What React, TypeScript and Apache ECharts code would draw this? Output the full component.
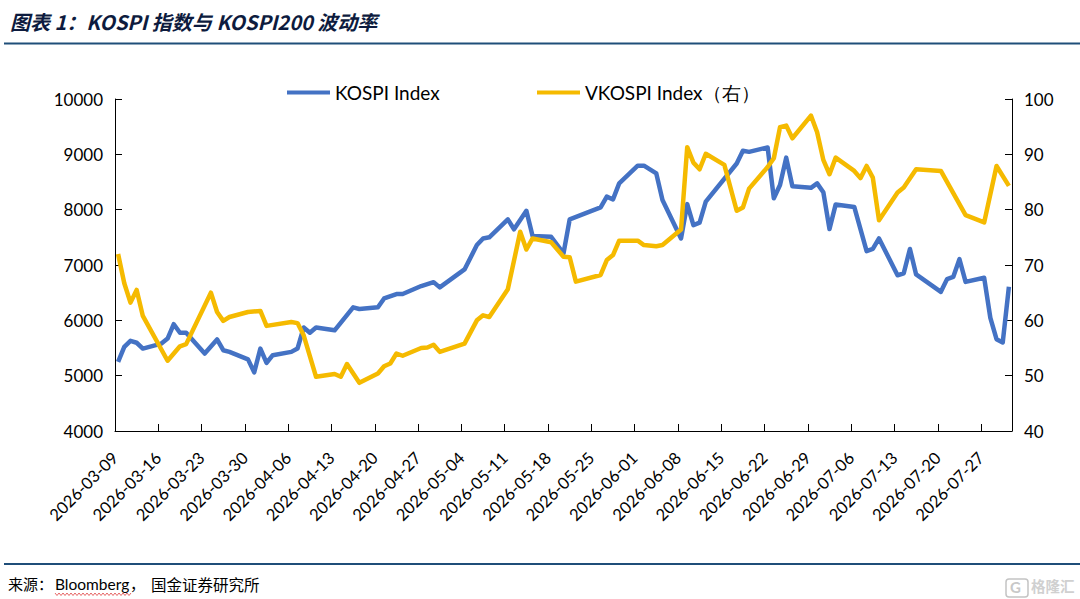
import React, { useEffect, useRef } from "react";
import * as echarts from "echarts";

const START_DATE = "2026-03-09";
const X_MAX_DAYS = 145;
const X_TICK_DAYS = 7;

const kospiDates = [
  "2026-03-09","2026-03-10","2026-03-11","2026-03-12","2026-03-13",
  "2026-03-16","2026-03-17","2026-03-18","2026-03-19","2026-03-20",
  "2026-03-23","2026-03-25","2026-03-26","2026-03-27",
  "2026-03-30","2026-03-31","2026-04-01","2026-04-02","2026-04-03",
  "2026-04-06","2026-04-07","2026-04-08","2026-04-09","2026-04-10",
  "2026-04-13","2026-04-16","2026-04-17",
  "2026-04-20","2026-04-21","2026-04-23","2026-04-24",
  "2026-04-27","2026-04-29","2026-04-30",
  "2026-05-04","2026-05-06","2026-05-07","2026-05-08",
  "2026-05-11","2026-05-12","2026-05-14","2026-05-15",
  "2026-05-18","2026-05-20","2026-05-21",
  "2026-05-26","2026-05-27","2026-05-28","2026-05-29",
  "2026-06-01","2026-06-02","2026-06-04","2026-06-05",
  "2026-06-08","2026-06-09","2026-06-10","2026-06-11","2026-06-12",
  "2026-06-17","2026-06-18","2026-06-19",
  "2026-06-22","2026-06-23","2026-06-24","2026-06-25","2026-06-26",
  "2026-06-29","2026-06-30","2026-07-01","2026-07-02","2026-07-03",
  "2026-07-06","2026-07-08","2026-07-09","2026-07-10",
  "2026-07-13","2026-07-14","2026-07-15","2026-07-16",
  "2026-07-20","2026-07-21","2026-07-22","2026-07-23","2026-07-24",
  "2026-07-27","2026-07-28","2026-07-29","2026-07-30","2026-07-31",
];
const kospiValues = [
  5250, 5520, 5630, 5595, 5490,
  5580, 5670, 5930, 5775, 5775,
  5400, 5655, 5460, 5430,
  5295, 5060, 5490, 5230, 5370,
  5430, 5490, 5870, 5775, 5870,
  5820, 6235, 6205,
  6235, 6395, 6475, 6475,
  6620, 6690, 6595,
  6920, 7360, 7480, 7500,
  7825, 7645, 7980, 7525,
  7510, 7210, 7825,
  8040, 8235, 8185, 8475,
  8795, 8795, 8655, 8175,
  7480, 8100, 7720, 7765, 8145,
  8835, 9065, 9045,
  9125, 8205, 8445, 8940, 8425,
  8395, 8475, 8315, 7650, 8095,
  8050, 7250, 7290, 7480,
  6815, 6850, 7290, 6830,
  6515, 6745, 6785, 7105, 6695,
  6770, 6045, 5660, 5600, 6605,
];

const vkospiDates = [
  "2026-03-09","2026-03-10","2026-03-11","2026-03-12","2026-03-13",
  "2026-03-17","2026-03-19","2026-03-20",
  "2026-03-24","2026-03-25","2026-03-26","2026-03-27",
  "2026-03-30","2026-04-01","2026-04-02",
  "2026-04-06","2026-04-07","2026-04-08","2026-04-10",
  "2026-04-13","2026-04-14","2026-04-15","2026-04-17",
  "2026-04-20","2026-04-21","2026-04-22","2026-04-23","2026-04-24",
  "2026-04-27","2026-04-28","2026-04-29","2026-04-30",
  "2026-05-04","2026-05-06","2026-05-07","2026-05-08",
  "2026-05-11","2026-05-13","2026-05-14","2026-05-15",
  "2026-05-18","2026-05-20","2026-05-21","2026-05-22",
  "2026-05-26","2026-05-27","2026-05-28","2026-05-29",
  "2026-06-01","2026-06-02","2026-06-04","2026-06-05",
  "2026-06-08","2026-06-09","2026-06-10","2026-06-11","2026-06-12",
  "2026-06-15","2026-06-17","2026-06-18","2026-06-19",
  "2026-06-22","2026-06-23","2026-06-24","2026-06-25","2026-06-26",
  "2026-06-29","2026-06-30","2026-07-01","2026-07-02","2026-07-03",
  "2026-07-06","2026-07-07","2026-07-08","2026-07-09","2026-07-10",
  "2026-07-13","2026-07-14","2026-07-16",
  "2026-07-20","2026-07-24",
  "2026-07-27","2026-07-28","2026-07-29","2026-07-31",
];
const vkospiValues = [
  72.0, 66.7, 63.2, 65.5, 60.8,
  52.7, 55.3, 55.7,
  65.0, 61.5, 59.9, 60.6,
  61.5, 61.7, 59.0,
  59.7, 59.5, 57.3, 49.8,
  50.3, 49.8, 52.1, 48.7,
  50.4, 51.7, 52.2, 54.0, 53.6,
  55.0, 55.1, 55.6, 54.3,
  55.8, 60.0, 60.9, 60.6,
  65.6, 76.0, 72.8, 74.8,
  74.1, 71.5, 71.4, 67.0,
  68.2, 70.9, 71.8, 74.4,
  74.4, 73.6, 73.4, 73.6,
  76.4, 91.3, 88.5, 87.3, 90.1,
  88.1, 79.8, 80.4, 83.8,
  87.7, 89.3, 94.9, 95.2, 92.9,
  97.0, 94.0, 89.0, 86.4, 89.4,
  87.0, 85.7, 87.9, 85.8, 78.1,
  83.1, 84.0, 87.3,
  87.0, 79.0,
  77.7, 82.8, 87.9, 84.3,
];

const leftAxis = { min: 4000, max: 10000, interval: 1000 };
const rightAxis = { min: 40, max: 100, interval: 10 };

const seriesNames = ["KOSPI Index", "VKOSPI Index（右）"];

const DAY_MS = 86400000;
const startMs = Date.parse(START_DATE + "T00:00:00Z");
const dayOffset = (d: string) => (Date.parse(d + "T00:00:00Z") - startMs) / DAY_MS;
const dayLabel = (v: number) => new Date(startMs + v * DAY_MS).toISOString().slice(0, 10);

const FONT = "Lato";
const CJK = "Noto Sans CJK SC";

export default function App() {
  const ref = useRef<HTMLDivElement>(null);

  useEffect(() => {
    if (!ref.current) return;
    const chart = echarts.init(ref.current, undefined, { renderer: "svg" });

    const toPoints = (dates: string[], vals: number[]) =>
      dates.map((d, i) => [dayOffset(d) + 0.5, vals[i]]);

    const wave: number[][] = [];
    for (let x = 55, k = 0; x <= 131; x += 2, k++) wave.push([x, k % 2 === 0 ? 593 : 595.5]);

    const axisLineStyle = { show: true, lineStyle: { color: "#000", width: 1 } };
    const axisTick = { show: true, inside: true, length: 7, lineStyle: { color: "#000", width: 1 } };
    const labelStyle = { color: "#000", fontSize: 17, fontFamily: FONT };

    chart.setOption({
      animation: false,
      backgroundColor: "#fff",
      grid: { left: 115, right: 68, top: 99, bottom: 168, containLabel: false },
      legend: [
        {
          data: [seriesNames[0]],
          left: 282,
          top: 78,
          icon: "rect",
          itemWidth: 43,
          itemHeight: 4,
          textStyle: { color: "#000", fontSize: 19, fontFamily: FONT },
          selectedMode: false,
        },
        {
          data: [seriesNames[1]],
          left: 532,
          top: 78,
          icon: "rect",
          itemWidth: 43,
          itemHeight: 4,
          textStyle: { color: "#000", fontSize: 19, fontFamily: FONT },
          selectedMode: false,
        },
      ],
      xAxis: {
        type: "value",
        min: 0,
        max: X_MAX_DAYS,
        interval: X_TICK_DAYS,
        axisLine: axisLineStyle,
        axisTick,
        splitLine: { show: false },
        axisLabel: {
          ...labelStyle,
          fontSize: 16.5,
          rotate: 45,
          margin: 24,
          showMaxLabel: false,
          formatter: (v: number) => (v % X_TICK_DAYS === 0 ? dayLabel(v) : ""),
        },
      },
      yAxis: [
        {
          type: "value",
          position: "left",
          ...leftAxis,
          axisLine: axisLineStyle,
          axisTick,
          splitLine: { show: false },
          axisLabel: { ...labelStyle, margin: 12, formatter: (v: number) => String(v) },
        },
        {
          type: "value",
          position: "right",
          ...rightAxis,
          axisLine: axisLineStyle,
          axisTick,
          splitLine: { show: false },
          axisLabel: { ...labelStyle, margin: 12, formatter: (v: number) => String(v) },
        },
      ],
      series: [
        {
          name: seriesNames[0],
          type: "line",
          yAxisIndex: 0,
          showSymbol: false,
          symbol: "none",
          color: "#4472C4",
          lineStyle: { width: 4.5, color: "#4472C4", join: "round" },
          data: toPoints(kospiDates, kospiValues),
        },
        {
          name: seriesNames[1],
          type: "line",
          yAxisIndex: 1,
          showSymbol: false,
          symbol: "none",
          color: "#F5BA00",
          lineStyle: { width: 4.5, color: "#F5BA00", join: "round" },
          data: toPoints(vkospiDates, vkospiValues),
        },
      ],
      graphic: [
        {
          type: "text",
          left: 10,
          top: 11,
          style: {
            text: "图表 1：KOSPI 指数与 KOSPI200 波动率",
            fontSize: 20,
            fontWeight: "bold",
            fontStyle: "italic",
            fontFamily: CJK,
            fill: "#0d1b3e",
          },
        },
        {
          type: "line",
          shape: { x1: 4, y1: 43.5, x2: 1080, y2: 43.5 },
          style: { stroke: "#1f4e79", lineWidth: 2 },
        },
        {
          type: "line",
          shape: { x1: 4, y1: 564, x2: 1080, y2: 564 },
          style: { stroke: "#1f4e79", lineWidth: 2 },
        },
        {
          type: "text",
          left: 8,
          top: 576,
          style: { text: "来源：", fontSize: 15, fontFamily: CJK, fill: "#000" },
        },
        {
          type: "text",
          left: 55,
          top: 576,
          style: { text: "Bloomberg", fontSize: 15.5, fontFamily: FONT, fill: "#000" },
        },
        {
          type: "text",
          left: 130,
          top: 576,
          style: { text: "，", fontSize: 15, fontFamily: CJK, fill: "#000" },
        },
        {
          type: "text",
          left: 151,
          top: 576,
          style: { text: "国金证券研究所", fontSize: 15.5, fontFamily: CJK, fill: "#000" },
        },
        {
          type: "polyline",
          shape: { points: wave },
          style: { stroke: "#e04040", lineWidth: 0.8, fill: "none" },
        },
        {
          type: "rect",
          shape: { x: 1006, y: 579, width: 22, height: 18, r: 3 },
          style: { stroke: "#c4c4c4", lineWidth: 1.5, fill: "none" },
        },
        {
          type: "text",
          left: 1010,
          top: 579,
          style: { text: "G", fontSize: 15, fontWeight: "bold", fontFamily: FONT, fill: "#c8c8c8" },
        },
        {
          type: "text",
          left: 1031,
          top: 578,
          style: { text: "格隆汇", fontSize: 14.5, fontWeight: "bold", fontFamily: CJK, fill: "#d0d0d0" },
        },
      ],
    });

    return () => chart.dispose();
  }, []);

  return (
    <div
      ref={ref}
      style={{ position: "fixed", left: 0, top: 0, width: 1080, height: 599, background: "#fff" }}
    />
  );
}
